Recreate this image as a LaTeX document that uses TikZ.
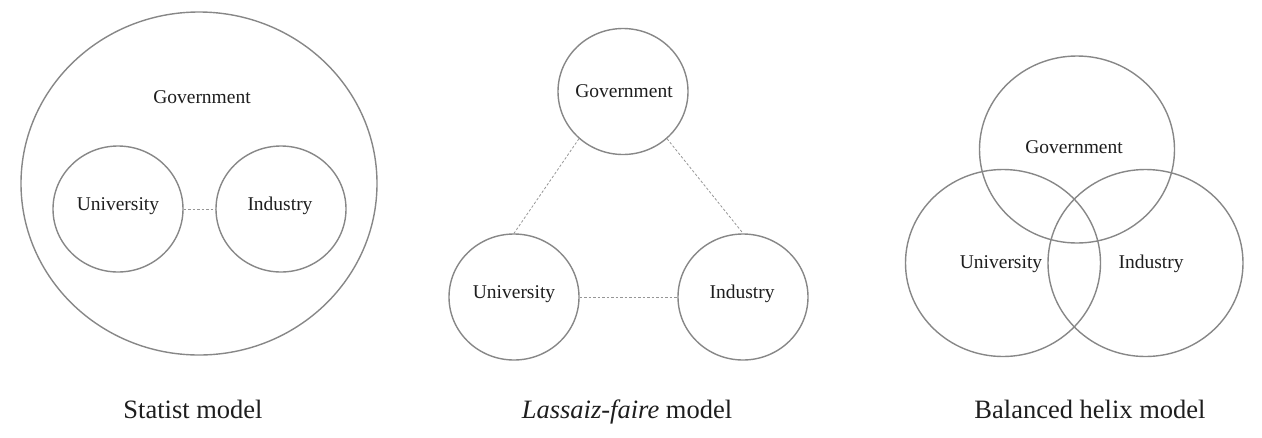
\documentclass[tikz,border=0pt]{standalone}
\usepackage{fontspec}
\setmainfont{Liberation Serif}
\usetikzlibrary{shapes.geometric}
\definecolor{ringgray}{RGB}{135,135,135}
\definecolor{dashgray}{RGB}{150,150,150}
\definecolor{txt}{RGB}{30,30,30}
\tikzset{
  ring/.style={ellipse, draw=ringgray, line width=1.4pt, inner sep=0pt, minimum width=#1},
  smallring/.style={ring=130pt, minimum height=126pt},
  bigring/.style={ring=195pt, minimum height=187pt},
  lbl/.style={anchor=base, text=txt, font=\fontsize{19.5}{22}\selectfont, inner sep=0pt},
  title/.style={anchor=base, text=txt, font=\fontsize{26.5}{30}\selectfont, inner sep=0pt},
  link/.style={draw=dashgray, line width=0.8pt, dash pattern=on 2.5pt off 2pt},
}
\begin{document}
\begin{tikzpicture}[x=1pt,y=-1pt]
\useasboundingbox (0,0) rectangle (1262,437);
% Statist model
\node[ring=356pt, minimum height=343pt] (sG) at (199,183.5) {};
\node[smallring] (sU) at (118,209) {};
\node[smallring] (sI) at (281,209) {};
\node[lbl] (sGt) at (202,103) {Government};
\node[lbl] (sUt) at (118,210) {University};
\node[lbl] (sIt) at (280,210) {Industry};
\draw[link] (sU.east) -- (sI.west);
\node[title] (sT) at (193,418) {Statist model};
% Laissez-faire model
\node[smallring] (lG) at (623,91.5) {};
\node[smallring] (lU) at (514,297) {};
\node[smallring] (lI) at (743,297) {};
\node[lbl] (lGt) at (624,97) {Government};
\node[lbl] (lUt) at (514,298) {University};
\node[lbl] (lIt) at (742,298) {Industry};
\draw[link] (lG.-133) -- (lU.north);
\draw[link] (lG.-47) -- (lI.north);
\draw[link] (lU.east) -- (lI.west);
\node[title] (lT) at (627,418) {\textit{Lassaiz-faire} model};
% Balanced helix model
\node[bigring] (bG) at (1077,149.5) {};
\node[bigring] (bU) at (1003,263) {};
\node[bigring] (bI) at (1145.5,263) {};
\node[lbl] (bGt) at (1074,153) {Government};
\node[lbl] (bUt) at (1001,268) {University};
\node[lbl] (bIt) at (1151,268) {Industry};
\node[title] (bT) at (1090,418) {Balanced helix model};
\end{tikzpicture}
\end{document}
